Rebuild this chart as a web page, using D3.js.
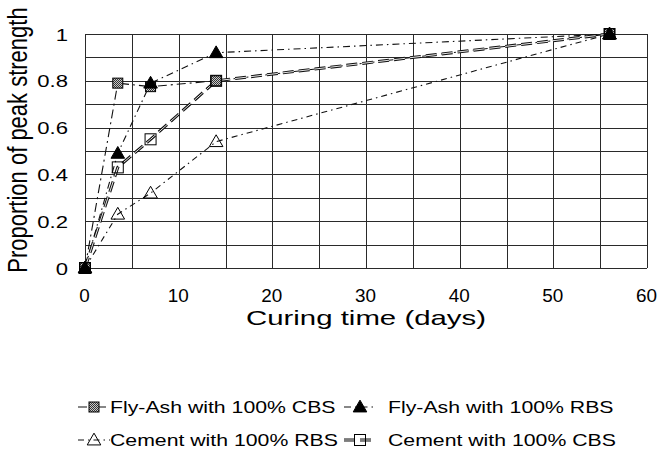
<!DOCTYPE html>
<html>
<head>
<meta charset="utf-8">
<script src="https://cdn.jsdelivr.net/npm/d3@7"></script>
<style>
  body { margin: 0; background: #fff; }
  svg text { font-family: "Liberation Sans", Arial, sans-serif; fill: #000; }
</style>
</head>
<body>
<div id="chart-area"></div>
<script>
// curing time (days) and proportion of peak strength
var days = [0, 3.5, 7, 14, 56];
var flyAshCBS = [0, 0.79, 0.775, 0.8, 1.0];
var flyAshRBS = [0, 0.49, 0.79, 0.92, 1.0];
var cementRBS = [0, 0.23, 0.32, 0.54, 1.0];
var cementCBS = [0, 0.43, 0.55, 0.8, 1.0];
var xTicks = [0, 10, 20, 30, 40, 50, 60];
var yTicks = [0, 0.2, 0.4, 0.6, 0.8, 1];
var seriesNames = ["Fly-Ash with 100% CBS", "Fly-Ash with 100% RBS",
                   "Cement with 100% RBS", "Cement with 100% CBS"];

var W = 657, H = 460;
var svg = d3.select("#chart-area").append("svg")
    .attr("width", W).attr("height", H);

var defs = svg.append("defs");
var pat = defs.append("pattern")
    .attr("id", "checker").attr("width", 2).attr("height", 2)
    .attr("patternUnits", "userSpaceOnUse");
pat.append("rect").attr("width", 2).attr("height", 2).attr("fill", "#c8c8c8");
pat.append("rect").attr("width", 1).attr("height", 1).attr("fill", "#333");
pat.append("rect").attr("x", 1).attr("y", 1).attr("width", 1).attr("height", 1).attr("fill", "#333");

var x = d3.scaleLinear().domain([0, 60]).range([85, 647]);
var y = d3.scaleLinear().domain([0, 1]).range([268, 34]);

var SX = 1.25; // scanned text looks horizontally stretched

// grid
var grid = svg.append("g").attr("stroke", "#2a2a2a").attr("stroke-width", 1);
d3.range(0, 61, 5).forEach(function(v) {
    grid.append("line")
        .attr("x1", Math.round(x(v)) + 0.5).attr("x2", Math.round(x(v)) + 0.5)
        .attr("y1", y(0)).attr("y2", y(1));
});
d3.range(0, 11).forEach(function(i) {
    var v = i / 10;
    grid.append("line")
        .attr("x1", x(0)).attr("x2", x(60))
        .attr("y1", Math.round(y(v)) + 0.5).attr("y2", Math.round(y(v)) + 0.5);
});

// axes (labels only)
var xAxis = svg.append("g")
    .attr("transform", "translate(0," + y(0) + ")")
    .call(d3.axisBottom(x).tickValues(xTicks).tickSize(0).tickPadding(0));
xAxis.select(".domain").remove();
xAxis.selectAll("text")
    .attr("y", null).attr("dy", null)
    .attr("font-size", 18)
    .attr("transform", "translate(-1,34) scale(1.05,1)");

var yAxis = svg.append("g")
    .attr("transform", "translate(" + x(0) + ",0)")
    .call(d3.axisLeft(y).tickValues(yTicks).tickSize(0).tickPadding(0)
        .tickFormat(d3.format("")));
yAxis.select(".domain").remove();
yAxis.selectAll("text")
    .attr("x", null).attr("dy", "0.36em")
    .attr("font-size", 17)
    .attr("transform", "translate(-17,0) scale(1.3,1)");

// axis titles
svg.append("text")
    .attr("text-anchor", "middle")
    .attr("font-size", 21)
    .attr("transform", "translate(366,325) scale(1.4,1)")
    .text("Curing time (days)");
svg.append("text")
    .attr("text-anchor", "middle")
    .attr("font-size", 22)
    .attr("transform", "translate(27,140) rotate(-90) scale(1,1.25)")
    .text("Proportion of peak strength");

// series
var series = [
    { name: seriesNames[0], values: flyAshCBS, dash: "9,4,2,4", marker: "checker" },
    { name: seriesNames[1], values: flyAshRBS, dash: "7,4,1.5,4", marker: "triFilled" },
    { name: seriesNames[2], values: cementRBS, dash: "6,4,1.5,4", marker: "triOpen" },
    { name: seriesNames[3], values: cementCBS, dash: "11,5", marker: "sqOpen", double: true }
];

var line = d3.line()
    .x(function(d) { return x(d[0]); })
    .y(function(d) { return y(d[1]); });

function drawLine(g, pts, s) {
    if (s.double) {
        g.append("path").attr("d", line(pts)).attr("fill", "none")
            .attr("stroke", "#111").attr("stroke-width", 3)
            .attr("stroke-dasharray", s.dash);
        g.append("path").attr("d", line(pts)).attr("fill", "none")
            .attr("stroke", "#fff").attr("stroke-width", 0.9)
            .attr("stroke-dasharray", s.dash);
    } else {
        g.append("path").attr("d", line(pts)).attr("fill", "none")
            .attr("stroke", "#111").attr("stroke-width", 1.1)
            .attr("stroke-dasharray", s.dash);
    }
}

function drawMarker(g, cx, cy, type) {
    if (type === "checker") {
        g.append("rect").attr("x", cx - 5).attr("y", cy - 5)
            .attr("width", 10).attr("height", 10)
            .attr("fill", "url(#checker)").attr("stroke", "#000").attr("stroke-width", 1);
    } else if (type === "sqOpen") {
        g.append("rect").attr("x", cx - 5.5).attr("y", cy - 5.5)
            .attr("width", 11).attr("height", 11)
            .attr("fill", "none").attr("stroke", "#000").attr("stroke-width", 1);
    } else {
        var sym = d3.symbol().type(d3.symbolTriangle).size(80);
        g.append("path").attr("d", sym())
            .attr("transform", "translate(" + cx + "," + (cy + 1) + ")")
            .attr("fill", type === "triFilled" ? "#000" : "none")
            .attr("stroke", "#000").attr("stroke-width", 1);
    }
}

var plot = svg.append("g");
series.forEach(function(s) {
    var pts = days.map(function(d, i) { return [d, s.values[i]]; });
    drawLine(plot, pts, s);
});
series.forEach(function(s) {
    days.forEach(function(d, i) {
        drawMarker(plot, x(d), y(s.values[i]), s.marker);
    });
});

// legend, 2 x 2
var legendPos = [
    { lx: 78, tx: 110, ty: 413 },
    { lx: 344, tx: 388, ty: 413 },
    { lx: 78, tx: 110, ty: 446 },
    { lx: 344, tx: 388, ty: 446 }
];
series.forEach(function(s, i) {
    var p = legendPos[i];
    var g = svg.append("g");
    var cy = p.ty - 6;
    drawLine(g, [[x.invert(p.lx), y.invert(cy)], [x.invert(p.lx + 32), y.invert(cy)]], s);
    drawMarker(g, p.lx + 16, cy, s.marker);
    g.append("text")
        .attr("font-size", 17)
        .attr("transform", "translate(" + p.tx + "," + p.ty + ") scale(" + SX + ",1)")
        .text(s.name);
});
</script>
</body>
</html>
